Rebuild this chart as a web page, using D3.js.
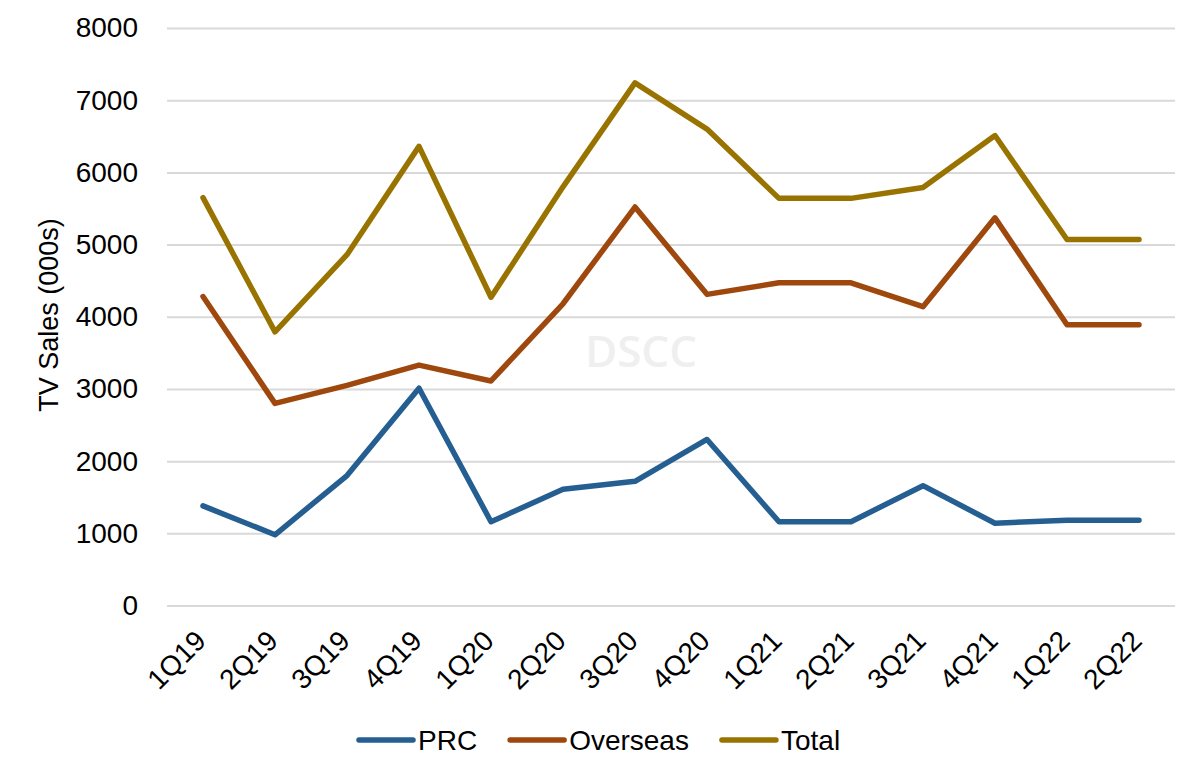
<!DOCTYPE html>
<html>
<head>
<meta charset="utf-8">
<script src="https://cdn.jsdelivr.net/npm/d3@7"></script>
<style>
  body { margin: 0; background: #fff; }
  svg text { font-family: "Liberation Sans", Arial, sans-serif; fill: #000; }
</style>
</head>
<body>
<svg id="chart" width="1200" height="775"></svg>
<script>
// quarterly TV sales (000s)
const quarters = ['1Q19', '2Q19', '3Q19', '4Q19', '1Q20', '2Q20', '3Q20', '4Q20',
  '1Q21', '2Q21', '3Q21', '4Q21', '1Q22', '2Q22'];
const prc = [1380, 980, 1800, 3010, 1160, 1610, 1720, 2300, 1160, 1160, 1660, 1140, 1180, 1180];
const overseas = [4280, 2800, 3050, 3330, 3110, 4180, 5520, 4310, 4470, 4470, 4140, 5370, 3890, 3890];
const total = [5650, 3790, 4860, 6360, 4270, 5800, 7240, 6600, 5640, 5640, 5790, 6510, 5070, 5070];
const seriesNames = ['PRC', 'Overseas', 'Total'];
const seriesColors = ['#255E91', '#9E480E', '#997300'];
const yTicks = [0, 1000, 2000, 3000, 4000, 5000, 6000, 7000, 8000];

const svg = d3.select('#chart');
const plotL = 167, plotR = 1175, plotT = 28, plotB = 605.5;

const x = d3.scalePoint().domain(quarters).range([plotL, plotR]).padding(0.5);
const y = d3.scaleLinear().domain([0, 8000]).range([plotB, plotT]);

// gridlines + y labels
const yAxis = svg.append('g')
  .attr('transform', 'translate(' + plotL + ',0)')
  .call(d3.axisLeft(y).tickValues(yTicks).tickFormat(d3.format('d'))
    .tickSize(-(plotR - plotL)).tickPadding(29));
yAxis.select('.domain').remove();
yAxis.selectAll('line').attr('stroke', '#d9d9d9').attr('stroke-width', 2);
yAxis.selectAll('text')
  .style('font-size', '28px')
  .attr('fill', '#000');

// x labels, rotated
const xAxis = svg.append('g')
  .attr('transform', 'translate(0,' + plotB + ')')
  .call(d3.axisBottom(x).tickSize(0).tickPadding(0));
xAxis.select('.domain').remove();
xAxis.selectAll('text')
  .style('font-size', '28px')
  .attr('text-anchor', 'end')
  .attr('dy', null)
  .attr('y', 0)
  .attr('transform', 'translate(4,37) rotate(-45)');

// axis title
svg.append('text')
  .attr('transform', 'translate(49,315) rotate(-90)')
  .attr('text-anchor', 'middle')
  .attr('dy', '0.35em')
  .style('font-size', '27px')
  .text('TV Sales (000s)');

// watermark
svg.append('text')
  .attr('x', 641)
  .attr('y', 367)
  .attr('text-anchor', 'middle')
  .style('font-family', '"Open Sans", sans-serif')
  .style('font-weight', 600)
  .style('font-size', '44px')
  .style('fill', '#efefef')
  .text('DSCC');

// lines
const line = d3.line()
  .x(function(d, i) { return x(quarters[i]); })
  .y(function(d) { return y(d); });

[prc, overseas, total].forEach(function(vals, k) {
  svg.append('path')
    .datum(vals)
    .attr('fill', 'none')
    .attr('stroke', seriesColors[k])
    .attr('stroke-width', 5.5)
    .attr('stroke-linejoin', 'round')
    .attr('stroke-linecap', 'round')
    .attr('d', line);
});

// legend
const legend = svg.append('g');
let lx = 357;
seriesNames.forEach(function(name, k) {
  legend.append('line')
    .attr('x1', lx + 2).attr('x2', lx + 56)
    .attr('y1', 740).attr('y2', 740)
    .attr('stroke', seriesColors[k])
    .attr('stroke-width', 5.5)
    .attr('stroke-linecap', 'round');
  const t = legend.append('text')
    .attr('x', lx + 61)
    .attr('y', 740)
    .attr('dy', '0.35em')
    .style('font-size', '28px')
    .text(name);
  lx += 61 + t.node().getComputedTextLength() + 31;
});
</script>
</body>
</html>
